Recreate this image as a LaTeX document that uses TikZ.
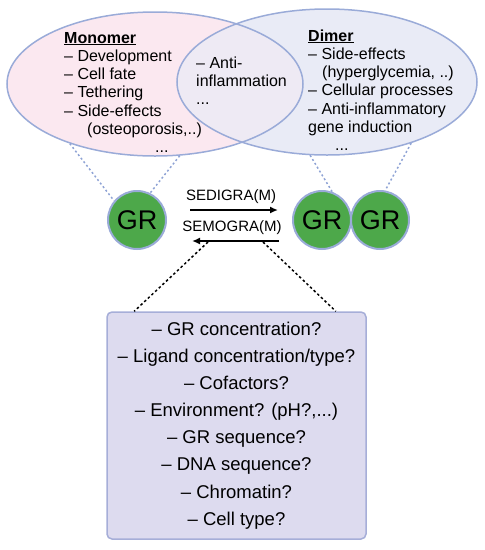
\documentclass[tikz,border=0pt]{standalone}
\usepackage{fontspec}
\setmainfont{Liberation Sans}
\usetikzlibrary{arrows.meta,positioning,shapes.geometric}

\definecolor{monofill}{HTML}{FBE8F0}
\definecolor{dimerfill}{HTML}{E9EBF6}
\definecolor{bothfill}{HTML}{EEEAF4}
\definecolor{rimblue}{HTML}{9AABD8}
\definecolor{linkblue}{HTML}{8FA3D5}
\definecolor{grgreen}{HTML}{4DA84A}
\definecolor{panelfill}{HTML}{DDDBEF}
\definecolor{panelrim}{HTML}{A6AED8}

\begin{document}
\begin{tikzpicture}[
  x=1pt, y=-1pt,
  blob/.style={ellipse, draw=rimblue, line width=1.5pt, inner sep=0pt},
  gr/.style={circle, draw=rimblue, line width=2pt, fill=grgreen, minimum size=58pt, inner sep=0pt, font=\fontsize{27}{27}\selectfont},
  list/.style={align=left, anchor=base west, inner sep=0pt, font=\fontsize{16}{18.3}\selectfont},
  lbl/.style={font=\fontsize{15}{15}\selectfont, inner sep=0pt},
  arrow/.style={-{Latex[length=8pt,width=7pt]}, line width=1.6pt},
  link/.style={draw=linkblue, line width=1.5pt, dash pattern=on 2pt off 2.5pt},
  dots/.style={line width=1.5pt, dash pattern=on 2.5pt off 2.5pt},
  panel/.style={rectangle, rounded corners=5pt, draw=panelrim, fill=panelfill, line width=1.5pt, minimum width=259pt, minimum height=227pt, align=center, font=\fontsize{18.5}{27.1}\selectfont}
]
  \useasboundingbox (0,0) rectangle (485,550);

  % the two ellipses and their overlap
  \fill[monofill] (155,84) ellipse [x radius=148pt, y radius=72pt];
  \fill[dimerfill] (327,82) ellipse [x radius=150pt, y radius=73pt];
  \begin{scope}
    \clip (155,84) ellipse [x radius=148pt, y radius=72pt];
    \fill[bothfill] (327,82) ellipse [x radius=150pt, y radius=73pt];
  \end{scope}
  \node[blob, minimum width=296pt, minimum height=144pt] (mono) at (155,84) {};
  \node[blob, minimum width=300pt, minimum height=146pt] (dimer) at (327,82) {};

  % lists (base = last line)
  \node[list] (monotxt) at (64,152.8) {\underline{\textbf{Monomer}}\\
    – Development\\ – Cell fate\\ – Tethering\\ – Side-effects\\
    \hspace*{23pt}(osteoporosis,..)\\ \hspace*{91pt}...};
  \node[list] (bothtxt) at (196,104.6) {– Anti-\\inflammation\\...};
  \node[list] (dimertxt) at (308,150.8) {\underline{\textbf{Dimer}}\\
    – Side-effects\\ \hspace*{14pt}(hyperglycemia, ..)\\ – Cellular processes\\
    – Anti-inflammatory\\ gene induction\\ \hspace*{27pt}...};

  % GR monomer and dimer
  \node[gr] (gr1) at (137,220) {GR};
  \node[gr] (gr2) at (322,220) {GR};
  \node[gr] (gr3) at (380,220) {GR};

  \draw[link] (mono.215) -- (gr1.140);
  \draw[link] (mono.289) -- (gr1.64);
  \draw[link] (dimer.257) -- (gr2.70);
  \draw[link] (dimer.324) -- (gr3.80);

  \node[lbl] (sedi) at (231,197) {SEDIGRA(M)};
  \node[lbl] (semo) at (232,228) {SEMOGRA(M)};
  \coordinate (a1) at (190,210);
  \coordinate (a2) at (278,210);
  \coordinate (b1) at (279,241);
  \coordinate (b2) at (192,241);
  \draw[arrow] (a1) -- (a2);
  \draw[arrow] (b1) -- (b2);

  % open questions
  \node[panel] (factors) at (236.5,425.5) {– GR concentration?\\ – Ligand concentration/type?\\
    – Cofactors?\\ – Environment? (pH?,...)\\ – GR sequence?\\ – DNA sequence?\\
    – Chromatin?\\ – Cell type?};

  \coordinate (d1) at (208,242);
  \coordinate (d2) at (263,242);
  \draw[dots] (d1) -- ([xshift=28pt]factors.north west);
  \draw[dots] (d2) -- ([xshift=-31pt]factors.north east);
\end{tikzpicture}
\end{document}
